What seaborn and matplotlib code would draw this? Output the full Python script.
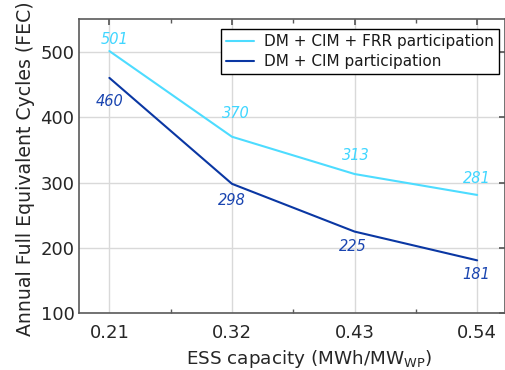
import matplotlib
matplotlib.use("Agg")
import matplotlib.pyplot as plt
import seaborn as sns
import pandas as pd
from matplotlib.ticker import MultipleLocator, FixedLocator

capacity = [0.21, 0.32, 0.43, 0.54]
fec_frr = [501, 370, 313, 281]
fec_cim = [460, 298, 225, 181]
series_names = ["DM + CIM + FRR participation", "DM + CIM participation"]
colors = ["#4ddcff", "#0a37a3"]
label_colors = ["#3fd6ff", "#1a45b0"]

df = pd.DataFrame({
    "capacity": capacity * 2,
    "fec": fec_frr + fec_cim,
    "series": [series_names[0]] * 4 + [series_names[1]] * 4,
})

sns.set_theme(style="white")
plt.rcParams['font.family'] = ['DejaVu Sans']

fig = plt.figure(figsize=(5.06, 3.70), dpi=100)
ax = fig.add_axes([0.1567, 0.1532, 0.998 - 0.1567, 0.9486 - 0.1532])

sns.lineplot(data=df, x="capacity", y="fec", hue="series", palette=colors,
             linewidth=1.5, ax=ax, legend=True)

ax.set_xlim(0.183, 0.565)
ax.set_ylim(100, 550)
ax.xaxis.set_major_locator(FixedLocator(capacity))
ax.xaxis.set_minor_locator(FixedLocator([0.265, 0.375, 0.485]))
ax.yaxis.set_major_locator(MultipleLocator(100))
ax.set_xticklabels([f"{c:.2f}" for c in capacity])
ax.grid(True, which="major", color="#d9d9d9", linewidth=1.0)
ax.set_axisbelow(True)

for s in ax.spines.values():
    s.set_color("#5a5a5a")
    s.set_linewidth(1.2)
ax.tick_params(axis="both", which="both", direction="in", colors="#5a5a5a",
               top=True, right=True, labelcolor="#262626", labelsize=13)
ax.tick_params(which="major", length=4)
ax.tick_params(which="minor", length=3, bottom=True, top=True)
ax.tick_params(axis="x", pad=8)

ax.set_xlabel("ESS capacity (MWh/MW$_\\mathregular{WP}$)", fontsize=13.2, color="#262626")
ax.set_ylabel("Annual Full Equivalent Cycles (FEC)", fontsize=13.6, color="#262626")
ax.xaxis.label.set_x(0.54)
ax.yaxis.label.set_y(0.49)

# annotations
frr_offsets = [(4, 8), (3, 17), (0.7, 13), (0, 12)]
cim_offsets = [(0, -17), (0, -12), (-1.4, -11), (-1, -10)]
for x, y, (dx, dy) in zip(capacity, fec_frr, frr_offsets):
    ax.annotate(str(y), (x, y), xytext=(dx, dy), textcoords="offset points",
                ha="center", va="center", fontsize=10.5, style="italic",
                color=label_colors[0])
for x, y, (dx, dy) in zip(capacity, fec_cim, cim_offsets):
    ax.annotate(str(y), (x, y), xytext=(dx, dy), textcoords="offset points",
                ha="center", va="center", fontsize=10.5, style="italic",
                color=label_colors[1])

leg = ax.legend(loc="upper right", bbox_to_anchor=(0.986, 0.966), fontsize=11,
                frameon=True, fancybox=False, framealpha=1, edgecolor="black",
                borderpad=0.35, handlelength=1.8, handletextpad=0.65,
                labelspacing=0.3, borderaxespad=0)
leg.get_frame().set_linewidth(1.0)
for t in leg.get_texts():
    t.set_color("#1a1a1a")

fig.savefig("out.png", dpi=100)
